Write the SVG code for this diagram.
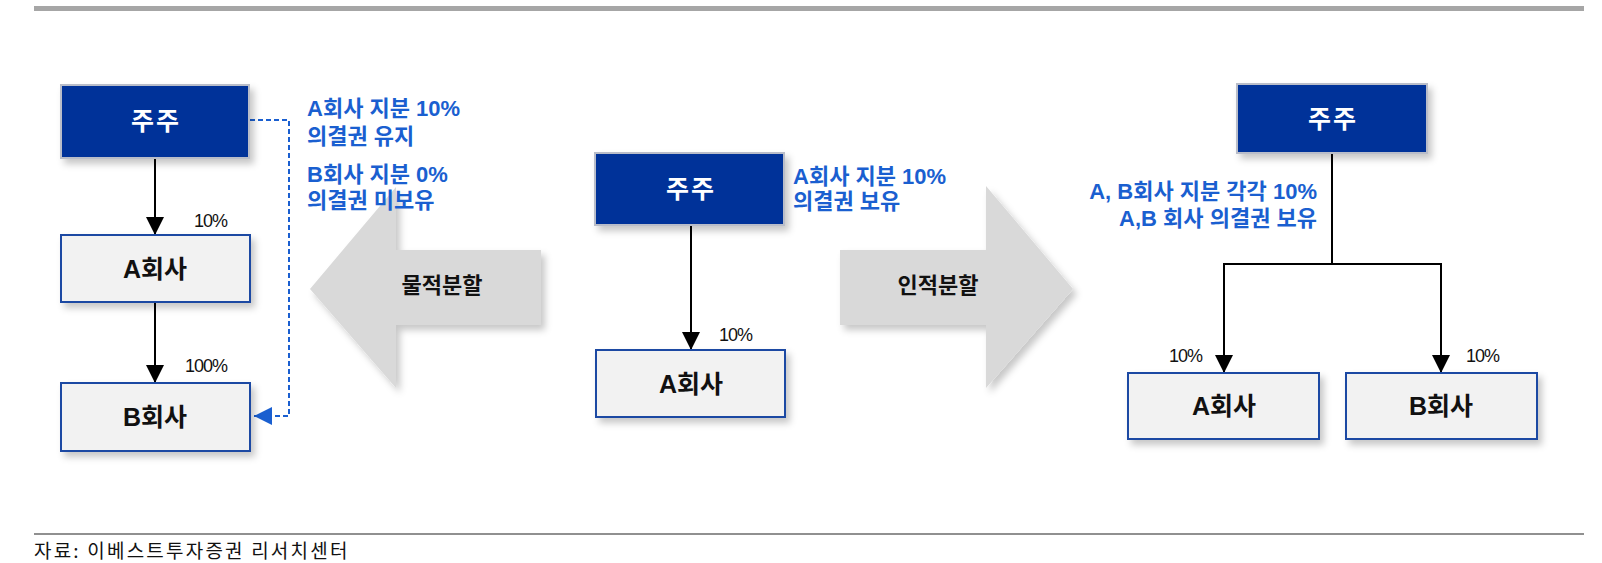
<svg xmlns="http://www.w3.org/2000/svg" width="1602" height="563" viewBox="0 0 1602 563">
<style>
.lbl{font-family:"Liberation Sans","Noto Sans CJK KR",sans-serif;font-weight:bold;font-size:25px;text-anchor:middle;dominant-baseline:central}
.sh2{letter-spacing:2px}
.arr{font-size:22px}
.wt{fill:#ffffff}
.bk{fill:#111111}
.blue{font-family:"Liberation Sans","Noto Sans CJK KR",sans-serif;font-weight:bold;font-size:22px;fill:#1a5fd0}
.pct{font-family:"Liberation Sans","Noto Sans CJK KR",sans-serif;font-size:18px;fill:#111111;letter-spacing:-1px}
.dark{fill:#003399;stroke:#b9bdc9;stroke-width:2}
.light{fill:#f2f2f2;stroke:#1f4aa3;stroke-width:2}
.conn{stroke:#000000;stroke-width:2;fill:none}
.dash{stroke:#1a5fd0;stroke-width:2;fill:none;stroke-dasharray:5 3}
.garrow{fill:#d9d9d9}
.foot{font-family:"Noto Sans CJK KR",sans-serif;font-size:19px;fill:#111111;letter-spacing:2.2px}
</style>
<defs>
<filter id="sh" x="-20%" y="-20%" width="150%" height="160%">
<feDropShadow dx="4" dy="5" stdDeviation="3.5" flood-color="#000000" flood-opacity="0.22"/>
</filter>
<marker id="ah" markerUnits="userSpaceOnUse" markerWidth="18" markerHeight="18" refX="18" refY="9" orient="auto">
<path d="M0,0 L18,9 L0,18 z" fill="#000000"/>
</marker>
<marker id="ahb" markerUnits="userSpaceOnUse" markerWidth="18" markerHeight="18" refX="18" refY="9" orient="auto">
<path d="M0,0 L18,9 L0,18 z" fill="#1a5fd0"/>
</marker>
</defs>
<rect x="0" y="0" width="1602" height="563" fill="#ffffff"/>
<rect x="34" y="6" width="1550" height="5" fill="#a6a6a6"/>

<g id="arrow-physical">
<path class="garrow" filter="url(#sh)" d="M310,289 L396,187 L396,250 L541,250 L541,325 L396,325 L396,388 z"/>
<text class="lbl arr bk" x="442" y="285">물적분할</text>
</g>
<g id="arrow-personal">
<path class="garrow" filter="url(#sh)" d="M1073,289 L986,186 L986,250 L840,250 L840,325 L986,325 L986,388 z"/>
<text class="lbl arr bk" x="938" y="285">인적분할</text>
</g>

<g id="connectors">
<line class="conn" x1="155" y1="158" x2="155" y2="235" marker-end="url(#ah)"/>
<line class="conn" x1="155" y1="302" x2="155" y2="383" marker-end="url(#ah)"/>
<polyline class="dash" points="250,120 289,120 289,416 254,416" marker-end="url(#ahb)"/>
<line class="conn" x1="691" y1="225" x2="691" y2="350" marker-end="url(#ah)"/>
<polyline class="conn" points="1332,153 1332,264"/>
<polyline class="conn" points="1224,373 1224,264 1441,264 1441,373"/>
<line class="conn" x1="1224" y1="300" x2="1224" y2="373" marker-end="url(#ah)"/>
<line class="conn" x1="1441" y1="300" x2="1441" y2="373" marker-end="url(#ah)"/>
</g>

<g id="left-shareholder">
<rect class="dark" filter="url(#sh)" x="61" y="85" width="188" height="73"/>
<text class="lbl sh2 wt" x="156" y="121">주주</text>
</g>
<g id="left-a">
<rect class="light" filter="url(#sh)" x="61" y="235" width="189" height="67"/>
<text class="lbl bk" x="155" y="269">A회사</text>
</g>
<g id="left-b">
<rect class="light" filter="url(#sh)" x="61" y="383" width="189" height="68"/>
<text class="lbl bk" x="155" y="417">B회사</text>
</g>
<g id="left-labels">
<text class="pct" x="227" y="227" text-anchor="end">10%</text>
<text class="pct" x="227" y="372" text-anchor="end">100%</text>
<text class="blue" x="307" y="116">A회사 지분 10%</text>
<text class="blue" x="307" y="144">의결권 유지</text>
<text class="blue" x="307" y="182">B회사 지분 0%</text>
<text class="blue" x="307" y="208">의결권 미보유</text>
</g>

<g id="mid-shareholder">
<rect class="dark" filter="url(#sh)" x="595" y="153" width="189" height="72"/>
<text class="lbl sh2 wt" x="691" y="189">주주</text>
</g>
<g id="mid-a">
<rect class="light" filter="url(#sh)" x="596" y="350" width="189" height="67"/>
<text class="lbl bk" x="691" y="384">A회사</text>
</g>
<g id="mid-labels">
<text class="pct" x="752" y="341" text-anchor="end">10%</text>
<text class="blue" x="793" y="184">A회사 지분 10%</text>
<text class="blue" x="793" y="209">의결권 보유</text>
</g>

<g id="right-shareholder">
<rect class="dark" filter="url(#sh)" x="1237" y="84" width="190" height="69"/>
<text class="lbl sh2 wt" x="1333" y="119">주주</text>
</g>
<g id="right-a">
<rect class="light" filter="url(#sh)" x="1128" y="373" width="191" height="66"/>
<text class="lbl bk" x="1224" y="406">A회사</text>
</g>
<g id="right-b">
<rect class="light" filter="url(#sh)" x="1346" y="373" width="191" height="66"/>
<text class="lbl bk" x="1441" y="406">B회사</text>
</g>
<g id="right-labels">
<text class="pct" x="1202" y="362" text-anchor="end">10%</text>
<text class="pct" x="1466" y="362">10%</text>
<text class="blue" x="1317" y="199" text-anchor="end">A, B회사 지분 각각 10%</text>
<text class="blue" x="1317" y="226" text-anchor="end">A,B 회사 의결권 보유</text>
</g>

<line x1="34" y1="534" x2="1584" y2="534" stroke="#222222" stroke-width="1.2"/>
<text class="foot" x="34" y="558">자료: 이베스트투자증권 리서치센터</text>
</svg>
